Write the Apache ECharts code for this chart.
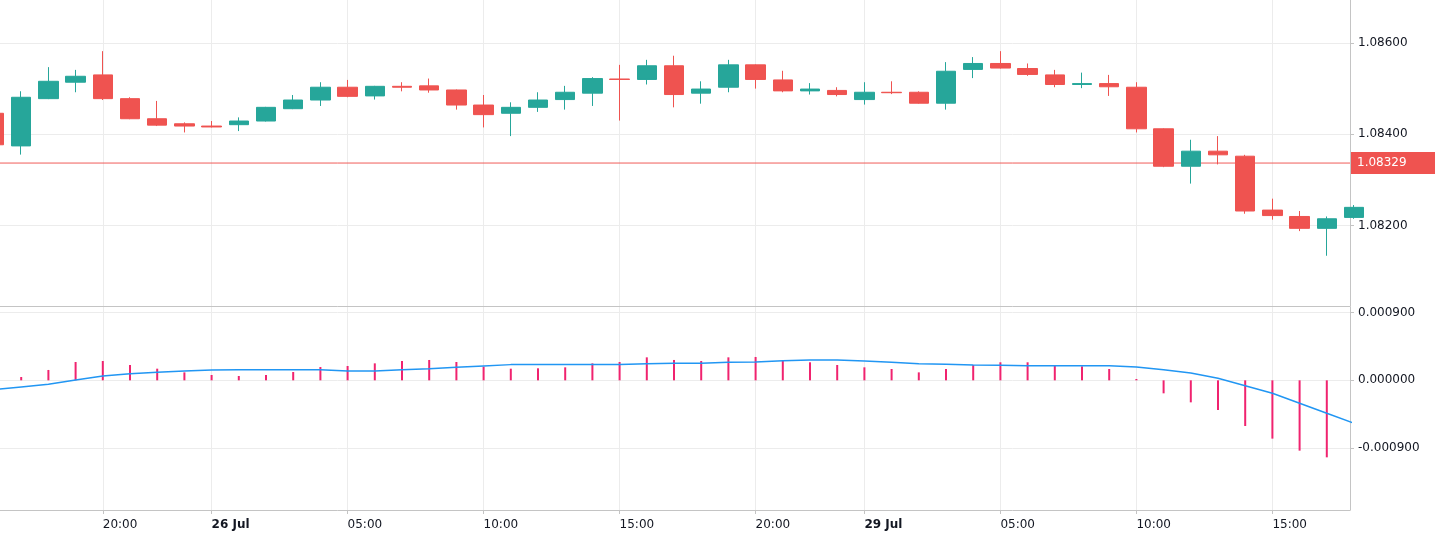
<!DOCTYPE html>
<html>
<head>
<meta charset="utf-8">
<script src="https://cdn.jsdelivr.net/npm/echarts@6/dist/echarts.min.js"></script>
<style>
html,body{margin:0;padding:0;background:#fff;}
#chart{width:1435px;height:540px;}
</style>
</head>
<body>
<div id="chart"></div>
<script>
// hourly candles (index = position on the time axis)
const times = [
  '25 Jul 16:00','25 Jul 17:00','25 Jul 18:00','25 Jul 19:00','25 Jul 20:00','25 Jul 21:00','25 Jul 22:00','25 Jul 23:00',
  '26 Jul 00:00','26 Jul 01:00','26 Jul 02:00','26 Jul 03:00','26 Jul 04:00','26 Jul 05:00','26 Jul 06:00','26 Jul 07:00',
  '26 Jul 08:00','26 Jul 09:00','26 Jul 10:00','26 Jul 11:00','26 Jul 12:00','26 Jul 13:00','26 Jul 14:00','26 Jul 15:00',
  '26 Jul 16:00','26 Jul 17:00','26 Jul 18:00','26 Jul 19:00','26 Jul 20:00','26 Jul 21:00','26 Jul 22:00','26 Jul 23:00',
  '29 Jul 00:00','29 Jul 01:00','29 Jul 02:00','29 Jul 03:00','29 Jul 04:00','29 Jul 05:00','29 Jul 06:00','29 Jul 07:00',
  '29 Jul 08:00','29 Jul 09:00','29 Jul 10:00','29 Jul 11:00','29 Jul 12:00','29 Jul 13:00','29 Jul 14:00','29 Jul 15:00',
  '29 Jul 16:00','29 Jul 17:00','29 Jul 18:00'
];
const opens = [1.08446,1.083745,1.08478,1.08514,1.0853,1.08478,1.08434,1.08423,1.08418,1.08421,
  1.08429,1.08456,1.08475,1.08503,1.08484,1.08505,1.08506,1.08497,1.08464,1.08446,
  1.08459,1.08476,1.0849,1.08521,1.0852,1.0855,1.0849,1.08503,1.08552,1.08519,
  1.08495,1.08496,1.08476,1.08492,1.08492,1.08468,1.08542,1.08555,1.08544,1.0853,
  1.08509,1.08511,1.08503,1.08412,1.0833,1.08363,1.08352,1.08234,1.0822,1.08194,1.08218];
const closes = [1.08377,1.08481,1.08516,1.08527,1.08478,1.08434,1.0842,1.08418,1.08416,1.08429,
  1.08459,1.08475,1.08503,1.08483,1.08505,1.08503,1.08497,1.08464,1.08443,1.08459,
  1.08475,1.08492,1.08522,1.0852,1.0855,1.08487,1.08499,1.08552,1.0852,1.08495,
  1.08499,1.08487,1.08492,1.08491,1.08468,1.08538,1.08555,1.08545,1.08531,1.08509,
  1.08511,1.08504,1.08412,1.0833,1.08363,1.08355,1.08232,1.08222,1.08194,1.08215,1.0824];
const lows = [1.08368,1.083555,1.08477,1.08492,1.08475,1.08433,1.08418,1.08404,1.08415,1.08407,
  1.08428,1.08455,1.08462,1.08481,1.08476,1.08494,1.08491,1.08454,1.08415,1.08396,
  1.08449,1.08454,1.08462,1.0843,1.08509,1.08459,1.08467,1.08492,1.085,1.08492,
  1.08487,1.08483,1.08465,1.08488,1.08467,1.08454,1.08523,1.08544,1.08528,1.08503,
  1.08501,1.08484,1.08404,1.08328,1.08292,1.08334,1.08226,1.08213,1.08188,1.08134,1.08215];
const highs = [1.08458,1.084942,1.08547,1.08541,1.08582,1.08481,1.08473,1.08426,1.08429,1.08437,
  1.0846,1.08486,1.08514,1.08519,1.08506,1.08514,1.08522,1.08498,1.08486,1.0847,
  1.08492,1.08506,1.08525,1.08552,1.08563,1.08572,1.08516,1.08563,1.08553,1.08539,
  1.08512,1.08503,1.08514,1.08516,1.08494,1.08558,1.08569,1.08582,1.08555,1.08541,
  1.08535,1.0853,1.08514,1.08413,1.08388,1.08396,1.08355,1.08259,1.08232,1.0822,1.08245];
// lower pane: histogram and signal line (last histogram bar is off-screen)
const histogram = [0.00001,0.000044,0.000138,0.000244,0.000257,0.000204,0.000155,0.000106,0.000071,0.000058,
  0.000071,0.000111,0.000177,0.000191,0.000226,0.000257,0.000271,0.000244,0.000182,0.000155,
  0.00016,0.000173,0.000226,0.000244,0.000306,0.000271,0.000257,0.000306,0.000311,0.000262,
  0.00024,0.000204,0.000173,0.000151,0.000106,0.000151,0.000204,0.00024,0.00024,0.000204,
  0.000186,0.000151,0.000018,-0.000173,-0.000293,-0.000395,-0.000608,-0.000776,-0.000936,-0.001025,null];
const signal = [-0.000124,-0.0000887,-0.000053,0.0000044,0.0000577,0.0000887,0.000106,0.000124,0.000138,0.000142,
  0.000142,0.000142,0.000142,0.000124,0.000124,0.000142,0.000155,0.000173,0.000191,0.000209,
  0.000209,0.000209,0.000209,0.000209,0.000222,0.000226,0.000226,0.00024,0.000244,0.000262,
  0.000271,0.000271,0.000257,0.00024,0.000222,0.000213,0.000204,0.0002,0.000195,0.000195,
  0.000195,0.000195,0.000177,0.000142,0.0000976,0.0000266,-0.000071,-0.000173,-0.000306,-0.000439,-0.00057];
// axis ticks
const timeTickIndex = [4, 8, 13, 18, 23, 28, 32, 37, 42, 47];
const priceTicks = [1.082, 1.084, 1.086];
const oscTicks = [-0.0009, 0, 0.0009];
const priceLine = 1.08337;
const priceLineLabel = '1.08329';

const FONT = 'DejaVu Sans';
const TXT = '#131722';
const GRID = '#ececec';
const AXIS = '#c4c4c4';
const UP = '#26a69a', DOWN = '#ef5350';

const candleData = times.map((t, i) => [i, opens[i], closes[i], lows[i], highs[i]]);
const histData = times.map((t, i) => [i, histogram[i]]);
const sigData = times.map((t, i) => [i, signal[i]]);

function tickLabel(i) {
  const parts = times[i].split(' ');
  if (parts[2] === '00:00') return '{b|' + parts[0] + ' ' + parts[1] + '}';
  return parts[2];
}

const xMin = 0.2206, xMax = 49.853;
const chart = echarts.init(document.getElementById('chart'), null, {renderer: 'canvas'});
chart.setOption({
  animation: false,
  backgroundColor: '#ffffff',
  textStyle: {fontFamily: FONT},
  grid: [
    {left: 0, top: 0, width: 1350, height: 306},
    {left: 0, top: 307, width: 1350, height: 203}
  ],
  xAxis: [
    {
      type: 'value', gridIndex: 0, min: xMin, max: xMax,
      axisLine: {show: true, onZero: false, lineStyle: {color: AXIS, width: 1}},
      axisTick: {show: false, customValues: timeTickIndex},
      axisLabel: {show: false, customValues: timeTickIndex},
      splitLine: {show: true, lineStyle: {color: GRID, width: 1}}
    },
    {
      type: 'value', gridIndex: 1, min: xMin, max: xMax,
      axisLine: {show: true, onZero: false, lineStyle: {color: AXIS, width: 1}},
      axisTick: {show: true, length: 4, lineStyle: {color: AXIS}, customValues: timeTickIndex},
      axisLabel: {
        show: true, customValues: timeTickIndex, align: 'left', margin: 9,
        fontFamily: FONT, fontSize: 12, color: TXT,
        formatter: v => tickLabel(Math.round(v)),
        rich: {b: {fontFamily: FONT, fontSize: 12, fontWeight: 'bold', color: TXT}}
      },
      splitLine: {show: true, lineStyle: {color: GRID, width: 1}}
    }
  ],
  yAxis: [
    {
      type: 'value', gridIndex: 0, position: 'right', min: 1.08024, max: 1.08694, scale: true,
      axisLine: {show: true, lineStyle: {color: AXIS}},
      axisTick: {show: true, length: 4, lineStyle: {color: AXIS}, customValues: priceTicks},
      axisLabel: {customValues: priceTicks, margin: 8, fontFamily: FONT, fontSize: 12, color: TXT,
        formatter: v => v.toFixed(5)},
      splitLine: {show: true, lineStyle: {color: GRID, width: 1}}
    },
    {
      type: 'value', gridIndex: 1, position: 'right', min: -0.001726, max: 0.000976,
      axisLine: {show: true, lineStyle: {color: AXIS}},
      axisTick: {show: true, length: 4, lineStyle: {color: AXIS}, customValues: oscTicks},
      axisLabel: {customValues: oscTicks, margin: 8, fontFamily: FONT, fontSize: 12, color: TXT,
        formatter: v => (Math.abs(v) < 1e-12 ? 0 : v).toFixed(6)},
      splitLine: {show: true, lineStyle: {color: GRID, width: 1}}
    }
  ],
  series: [
    {
      type: 'line', xAxisIndex: 0, yAxisIndex: 0,
      data: [[xMin, priceLine], [xMax, priceLine]],
      symbol: 'none', showSymbol: false, silent: true, clip: false,
      lineStyle: {color: DOWN, width: 1, opacity: 0.95},
      endLabel: {
        show: true, distance: 1, formatter: priceLineLabel,
        backgroundColor: DOWN, color: '#ffffff', fontFamily: FONT, fontSize: 12,
        padding: [5, 30, 5, 6], align: 'left', verticalAlign: 'middle'
      },
      z: 2
    },
    {
      type: 'candlestick', xAxisIndex: 0, yAxisIndex: 0,
      data: candleData,
      encode: {x: 0, y: [1, 2, 3, 4]},
      barWidth: 20,
      clip: true,
      itemStyle: {color: UP, color0: DOWN, borderColor: UP, borderColor0: DOWN, borderWidth: 1},
      z: 3
    },
    {
      type: 'bar', xAxisIndex: 1, yAxisIndex: 1,
      data: histData, barWidth: 2, clip: true,
      itemStyle: {color: '#f0236f'}
    },
    {
      type: 'line', xAxisIndex: 1, yAxisIndex: 1,
      data: sigData, showSymbol: false, symbol: 'none', clip: true,
      lineStyle: {color: '#2196f3', width: 1.5},
      z: 4
    }
  ]
});
</script>
</body>
</html>
